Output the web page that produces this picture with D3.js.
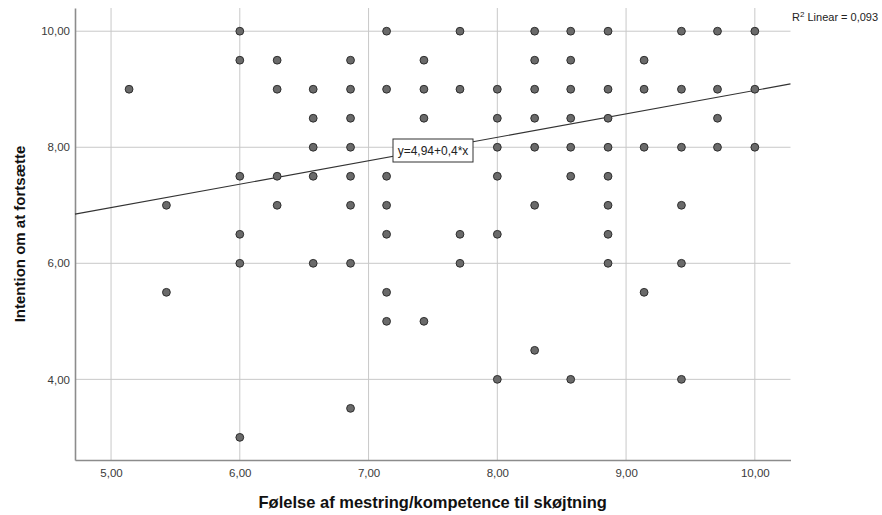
<!DOCTYPE html>
<html>
<head>
<meta charset="utf-8">
<script src="https://cdn.jsdelivr.net/npm/d3@7"></script>
<style>
  body { margin: 0; background: #fff; }
  svg text { font-family: "Liberation Sans", Arial, sans-serif; }
</style>
</head>
<body>
<div id="chart"></div>
<script>
// x levels (scale of 7 items) and the y values seen in each column
var xLevels = [5.14, 5.43, 6.00, 6.29, 6.57, 6.86, 7.14, 7.43, 7.71, 8.00, 8.29, 8.57, 8.86, 9.14, 9.43, 9.71, 10.00];
var yByLevel = [
    [9],
    [7, 5.5],
    [10, 9.5, 7.5, 6.5, 6, 3],
    [9.5, 9, 7.5, 7],
    [9, 8.5, 8, 7.5, 6],
    [9.5, 9, 8.5, 8, 7.5, 7, 6, 3.5],
    [10, 9, 7.5, 7, 6.5, 5.5, 5],
    [9.5, 9, 8.5, 5],
    [10, 9, 6.5, 6],
    [9, 8.5, 8, 7.5, 6.5, 4],
    [10, 9.5, 9, 8.5, 8, 7, 4.5],
    [10, 9.5, 9, 8.5, 8, 7.5, 4],
    [10, 9, 8.5, 8, 7.5, 7, 6.5, 6],
    [9.5, 9, 8, 5.5],
    [10, 9, 8, 7, 6, 4],
    [10, 9, 8.5, 8],
    [10, 9, 8]
];
var xTicks = [5, 6, 7, 8, 9, 10];
var yTicks = [4, 6, 8, 10];
var fit = { intercept: 4.94, slope: 0.404 };
var fitLabel = "y=4,94+0,4*x";
var r2Label = "0,093";
var xTitle = "Følelse af mestring/kompetence til skøjtning";
var yTitle = "Intention om at fortsætte";

var width = 882,
    height = 515;
var plotL = 75, plotR = 790.5, plotT = 8, plotB = 460;

var points = [];
xLevels.forEach(function(x, i) {
    yByLevel[i].forEach(function(y) { points.push({ x: x, y: y }); });
});

var x = d3.scaleLinear().domain([4.72, 10.277]).range([plotL, plotR]);
var y = d3.scaleLinear().domain([2.61, 10.4]).range([plotB, plotT]);
var fmt = function(d) { return d3.format(".2f")(d).replace(".", ","); };

var svg = d3.select("#chart").append("svg")
    .attr("width", width)
    .attr("height", height);

// grid
svg.append("g").selectAll("line")
    .data(xTicks)
  .enter().append("line")
    .attr("x1", function(d) { return x(d); })
    .attr("x2", function(d) { return x(d); })
    .attr("y1", plotT)
    .attr("y2", plotB)
    .attr("stroke", "#c8c8c8")
    .attr("stroke-width", 1);

svg.append("g").selectAll("line")
    .data(yTicks)
  .enter().append("line")
    .attr("x1", plotL)
    .attr("x2", plotR)
    .attr("y1", function(d) { return y(d); })
    .attr("y2", function(d) { return y(d); })
    .attr("stroke", "#c8c8c8")
    .attr("stroke-width", 1);

// axes
var xAxis = svg.append("g")
    .attr("transform", "translate(0," + plotB + ")")
    .call(d3.axisBottom(x).tickValues(xTicks).tickFormat(fmt).tickSize(0).tickPadding(9));
var yAxis = svg.append("g")
    .attr("transform", "translate(" + plotL + ",0)")
    .call(d3.axisLeft(y).tickValues(yTicks).tickFormat(fmt).tickSize(0).tickPadding(5));

[xAxis, yAxis].forEach(function(a) {
    a.select(".domain").attr("stroke", "#8c8c8c").attr("stroke-width", 1.6);
    a.selectAll("text")
        .attr("fill", "#3a3a3a")
        .style("font-size", "11.5px");
});

// fit line
var x0 = x.domain()[0], x1 = x.domain()[1];
svg.append("line")
    .attr("x1", x(x0))
    .attr("y1", y(fit.intercept + fit.slope * x0))
    .attr("x2", x(x1))
    .attr("y2", y(fit.intercept + fit.slope * x1))
    .attr("stroke", "#333")
    .attr("stroke-width", 1.1);

// points
svg.append("g").selectAll("circle")
    .data(points)
  .enter().append("circle")
    .attr("cx", function(d) { return x(d.x); })
    .attr("cy", function(d) { return y(d.y); })
    .attr("r", 3.9)
    .attr("fill", "#6a6a6a")
    .attr("stroke", "#2e2e2e")
    .attr("stroke-width", 1);

// fit label box
var lab = svg.append("g").attr("transform", "translate(393,139)");
lab.append("rect")
    .attr("width", 80)
    .attr("height", 23)
    .attr("fill", "#fff")
    .attr("stroke", "#333")
    .attr("stroke-width", 1);
lab.append("text")
    .attr("x", 40)
    .attr("y", 16)
    .attr("text-anchor", "middle")
    .attr("fill", "#222")
    .style("font-size", "12px")
    .text(fitLabel);

// R2 label
var r2 = svg.append("text")
    .attr("x", 792)
    .attr("y", 21)
    .attr("fill", "#222")
    .style("font-size", "11px");
r2.append("tspan").text("R");
r2.append("tspan").attr("dy", -4).style("font-size", "8px").text("2");
r2.append("tspan").attr("dy", 4).text(" Linear = " + r2Label);

// titles
svg.append("text")
    .attr("x", (plotL + plotR) / 2)
    .attr("y", 508)
    .attr("text-anchor", "middle")
    .attr("fill", "#111")
    .style("font-size", "16.5px")
    .style("font-weight", "bold")
    .text(xTitle);

svg.append("text")
    .attr("transform", "translate(25," + (plotT + plotB) / 2 + ") rotate(-90)")
    .attr("text-anchor", "middle")
    .attr("fill", "#111")
    .style("font-size", "15px")
    .style("font-weight", "bold")
    .text(yTitle);
</script>
</body>
</html>
